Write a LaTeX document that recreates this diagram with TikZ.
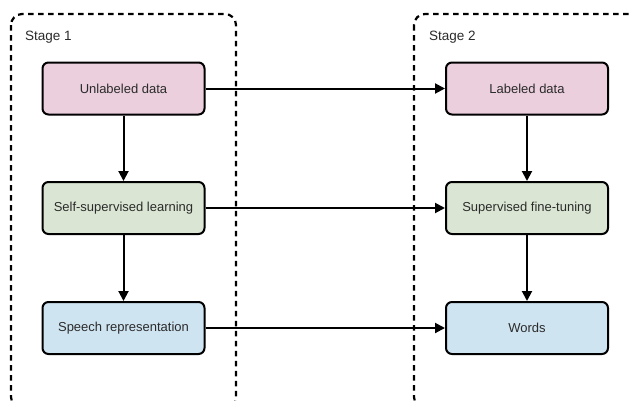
\documentclass[tikz,border=0pt]{standalone}
\usepackage{fontspec}
\setmainfont{Liberation Sans}
\usetikzlibrary{arrows.meta}
\definecolor{txt}{HTML}{2B2B2B}
\definecolor{pinkfill}{HTML}{EBCFDD}
\definecolor{greenfill}{HTML}{DAE6D3}
\definecolor{bluefill}{HTML}{CFE4F1}
\tikzset{
  stagebox/.style={draw=black, line width=2.2pt, dash pattern=on 5.5pt off 4.5pt, rounded corners=11pt},
  stagelabel/.style={anchor=base west, inner sep=0pt, text=txt, font=\fontsize{13.5}{15}\selectfont},
  procbox/.style={draw=black, line width=2pt, rounded corners=6pt, minimum width=162pt, minimum height=52pt,
    inner sep=0pt, text=txt, font=\fontsize{13}{15}\selectfont},
  flow/.style={line width=2pt, -{Triangle[length=10pt,width=10pt]}}
}
\begin{document}
\begin{tikzpicture}[x=1pt,y=-1pt]
  \useasboundingbox (0,0) rectangle (632,400);
  % stage frames
  \draw[stagebox] (11,14) rectangle (236,408);
  \draw[stagebox] (414,14) rectangle (640,408);
  \node[stagelabel] (s1) at (25,40) {Stage 1};
  \node[stagelabel] (s2) at (429,40) {Stage 2};
  % stage 1 column
  \node[procbox, fill=pinkfill]  (unl)  at (123.5,88.5) {Unlabeled data};
  \node[procbox, fill=greenfill] (ssl)  at (123.5,208)  {Self-supervised learning};
  \node[procbox, fill=bluefill]  (rep)  at (123.5,328)  {Speech representation};
  % stage 2 column
  \node[procbox, fill=pinkfill]  (lab)  at (527,88.5)   {Labeled data};
  \node[procbox, fill=greenfill] (sft)  at (527,208)    {Supervised fine-tuning};
  \node[procbox, fill=bluefill]  (wrd)  at (527,328)    {Words};
  % connectors
  \draw[flow] (unl) -- (ssl);
  \draw[flow] (ssl) -- (rep);
  \draw[flow] (lab) -- (sft);
  \draw[flow] (sft) -- (wrd);
  \draw[flow] (unl) -- (lab);
  \draw[flow] (ssl) -- (sft);
  \draw[flow] (rep) -- (wrd);
\end{tikzpicture}
\end{document}
